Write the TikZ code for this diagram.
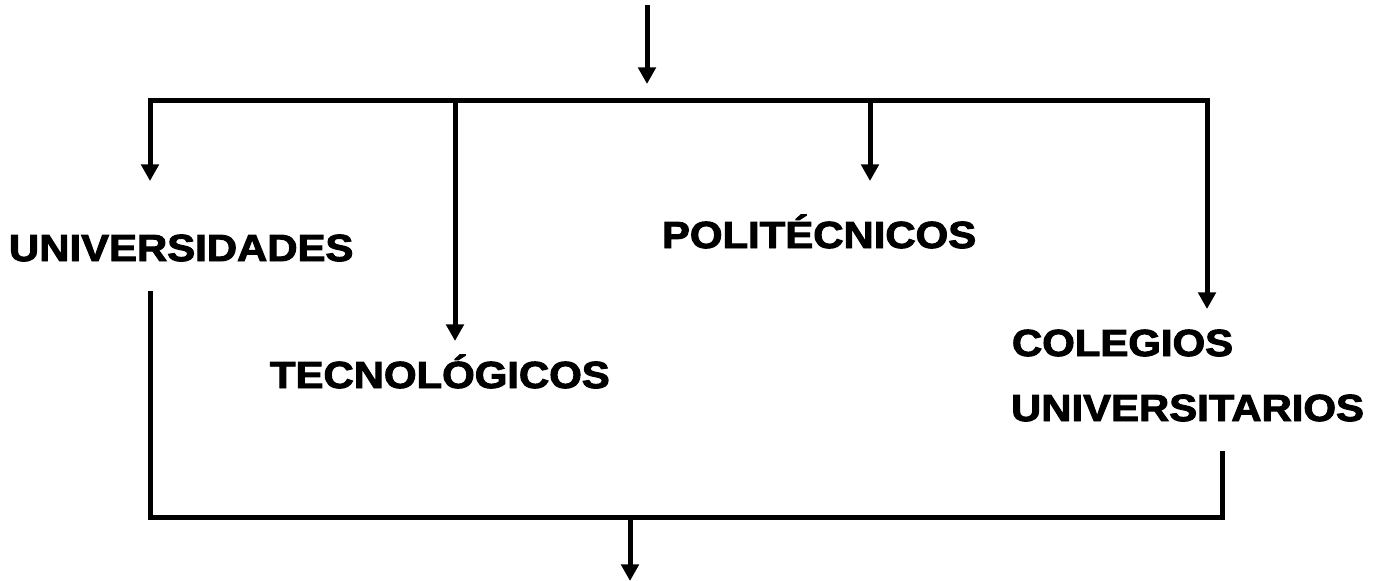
\documentclass[tikz,border=0pt]{standalone}
\usepackage{fontspec}
\setmainfont{Liberation Sans}
\newfontfamily\lblfont{Liberation Sans Bold}[FakeBold=2.5]
\usetikzlibrary{arrows.meta}
\tikzset{
  conn/.style={line width=3.75pt, line join=miter, line cap=rect, draw=black},
  arr/.style={conn, line cap=butt, -{Triangle[length=12.5pt,width=13pt]}},
  arr2/.style={conn, line cap=butt, {Triangle[length=12.5pt,width=13pt]}-{Triangle[length=12.5pt,width=13pt]}},
  lbl/.style={inner sep=0pt, outer sep=0pt, anchor=base west, font=\lblfont\fontsize{28.3}{34}\selectfont}
}
\newcommand{\wide}[1]{\scalebox{1.11}[1]{#1}}
\begin{document}
\begin{tikzpicture}[x=0.75pt,y=-0.75pt]
\useasboundingbox (0,0) rectangle (1383,581);
% labels
\node[lbl] (u) at (9,261) {\wide{UNIVERSIDADES}};
\node[lbl] (t) at (270,388) {\wide{TECNOLÓGICOS}};
\node[lbl] (p) at (662,248) {\wide{POLITÉCNICOS}};
\node[lbl] (c1) at (1012,356) {\wide{COLEGIOS}};
\node[lbl] (c2) at (1011,421) {\wide{UNIVERSITARIOS}};
% coordinates
\coordinate (in) at (647,5);
\coordinate (intip) at (647,84);
\coordinate (tl) at (150,101);
\coordinate (tr) at (1207,101);
\coordinate (utip) at (150,181);
\coordinate (ctip) at (1207,309);
\coordinate (tt) at (455,101);
\coordinate (ttip) at (455,341);
\coordinate (pt) at (870,101);
\coordinate (ptip) at (870,181);
\coordinate (ub) at (150,293);
\coordinate (bl) at (150,517);
\coordinate (br) at (1222,517);
\coordinate (cb) at (1222,453);
\coordinate (ot) at (630,517);
\coordinate (out) at (630,581);
% connectors
\draw[arr] (in) -- (intip);
\draw[arr2] (utip) -- (tl) -- (tr) -- (ctip);
\draw[arr] (tt) -- (ttip);
\draw[arr] (pt) -- (ptip);
\draw[conn] (ub) -- (bl) -- (br) -- (cb);
\draw[arr] (ot) -- (out);
\end{tikzpicture}
\end{document}
